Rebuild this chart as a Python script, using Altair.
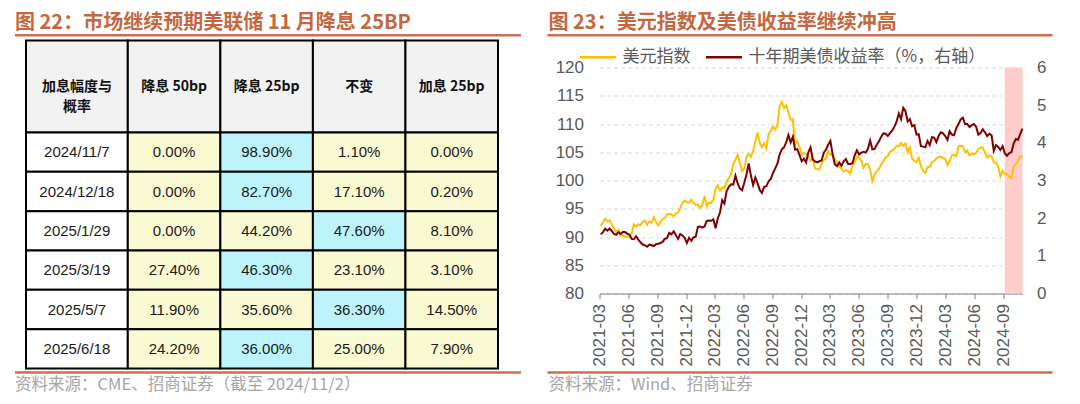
import altair as alt
import pandas as pd

CJK = "Noto Sans CJK SC"
LAT = "Liberation Sans"
TITLE_COLOR = "#c4673f"
RULE_COLOR = "#c8704f"
SRC_COLOR = "#a6a6a6"
AX_COLOR = "#595959"

# ---------------- left panel: probability table ----------------
table_title = "图 22：市场继续预期美联储 11 月降息 25BP"
table_source = "资料来源：CME、招商证券（截至 2024/11/2）"
header_labels = ["加息幅度与\n概率", "降息 50bp", "降息 25bp", "不变", "加息 25bp"]
meeting_dates = ["2024/11/7", "2024/12/18", "2025/1/29", "2025/3/19", "2025/5/7", "2025/6/18"]
cut50 = [0.00, 0.00, 0.00, 27.40, 11.90, 24.20]
cut25 = [98.90, 82.70, 44.20, 46.30, 35.60, 36.00]
hold = [1.10, 17.10, 47.60, 23.10, 36.30, 25.00]
hike25 = [0.00, 0.20, 8.10, 3.10, 14.50, 7.90]

# ---------------- right panel: DXY & UST 10Y (weekly) ----------------
line_title = "图 23：美元指数及美债收益率继续冲高"
line_source = "资料来源：Wind、招商证券"
series_names = ["美元指数", "十年期美债收益率（%，右轴）"]
series_colors = ["#ffc000", "#7f0000"]
first_week = "2021-03-05"
x_start, x_end = "2021-03-01", "2024-11-01"
band_start, band_end = "2024-09-06", "2024-11-01"
tick_labels = ["2021-03", "2021-06", "2021-09", "2021-12", "2022-03", "2022-06",
               "2022-09", "2022-12", "2023-03", "2023-06", "2023-09", "2023-12",
               "2024-03", "2024-06", "2024-09"]
left_ticks = [80, 85, 90, 95, 100, 105, 110, 115, 120]
right_ticks = [0, 1, 2, 3, 4, 5, 6]

dxy_2021 = [91.98, 92.67, 93.25, 92.77,
            92.93, 92.16, 91.56, 90.85, 91.28,
            90.23, 90.32, 89.99, 90.03,
            90.13, 90.56, 92.23, 91.85,
            92.23, 92.12, 92.68, 92.91, 92.17,
            92.78, 92.52, 93.49, 92.69,
            92.04, 92.58, 93.20, 93.33,
            94.04, 94.08, 93.97, 93.64, 94.12,
            94.32, 95.13, 96.03, 96.48,
            96.15, 96.08, 96.60, 96.03, 95.67]
dxy_2022 = [95.74, 95.17, 95.64, 97.26,
            95.49, 96.06, 96.04, 96.62,
            98.51, 99.13, 98.23, 98.79,
            98.61, 99.83, 100.50, 101.12, 102.96,
            103.66, 104.56, 103.15, 101.66,
            102.14, 104.15, 104.69, 104.20,
            105.14, 106.89, 108.48, 106.67, 105.88,
            106.60, 105.69, 108.16, 108.82,
            109.54, 109.00, 109.76, 113.19, 113.90,
            112.80, 113.31, 111.99, 110.75,
            110.80, 106.39, 106.92, 105.99,
            104.56, 104.81, 104.70, 104.32, 103.52]
dxy_2023 = [103.89, 102.20, 102.02, 101.92,
            102.92, 103.63, 103.87, 105.21,
            104.52, 104.58, 103.86, 103.12, 102.51,
            102.08, 101.55, 101.82, 101.66,
            101.22, 102.68, 103.16, 104.22,
            104.02, 103.56, 102.26, 102.92, 102.91,
            101.95, 99.91, 101.07, 101.67,
            102.02, 102.85, 103.39, 104.11,
            104.26, 105.06, 105.32, 105.58, 106.17,
            106.04, 106.66, 106.16, 106.56,
            105.02, 105.86, 103.92, 103.41,
            103.27, 104.01, 102.55, 101.70, 101.33]
dxy_2024 = [102.41, 102.40, 103.29, 103.44,
            103.92, 104.11, 104.28, 103.94,
            103.86, 102.71, 103.44, 104.43, 104.55,
            104.30, 106.04, 106.15, 106.09,
            105.03, 105.30, 104.46, 104.72, 104.67,
            104.89, 105.55, 105.80, 105.87,
            104.88, 104.09, 104.40, 104.32,
            103.21, 103.14, 102.45, 100.72, 101.70,
            101.18, 101.11, 100.72, 100.38,
            102.52, 102.90, 103.49, 104.26,
            104.28]

yld_2021 = [1.57, 1.63, 1.72, 1.67,
            1.72, 1.66, 1.58, 1.56, 1.63,
            1.58, 1.63, 1.63, 1.59,
            1.56, 1.45, 1.44, 1.52,
            1.43, 1.36, 1.30, 1.28, 1.24,
            1.30, 1.28, 1.26, 1.31,
            1.32, 1.34, 1.37, 1.45,
            1.47, 1.61, 1.57, 1.65, 1.55,
            1.45, 1.58, 1.54, 1.48,
            1.34, 1.48, 1.40, 1.49, 1.51]
yld_2022 = [1.77, 1.78, 1.75, 1.78,
            1.93, 1.94, 1.93, 1.97,
            1.73, 2.00, 2.15, 2.48,
            2.39, 2.72, 2.83, 2.90, 2.89,
            3.13, 2.92, 2.79, 2.74,
            2.94, 3.16, 3.45, 3.13,
            2.88, 3.08, 2.93, 2.75, 2.67,
            2.83, 2.85, 2.98, 3.04,
            3.20, 3.32, 3.45, 3.69, 3.83,
            3.88, 4.02, 4.21, 4.01,
            4.16, 3.82, 3.83, 3.68,
            3.51, 3.58, 3.48, 3.75, 3.88]
yld_2023 = [3.56, 3.51, 3.48, 3.51,
            3.53, 3.74, 3.82, 3.95,
            4.05, 3.70, 3.43, 3.38, 3.48,
            3.39, 3.51, 3.57, 3.44,
            3.44, 3.46, 3.67, 3.80,
            3.69, 3.74, 3.76, 3.74, 3.84,
            4.06, 3.83, 3.84, 3.95,
            4.04, 4.16, 4.25, 4.24,
            4.18, 4.26, 4.33, 4.43, 4.57,
            4.78, 4.63, 4.93, 4.84,
            4.57, 4.63, 4.44, 4.47,
            4.22, 4.23, 3.91, 3.90, 3.88]
yld_2024 = [4.05, 3.94, 4.15, 4.14,
            4.02, 4.18, 4.28, 4.25,
            4.18, 4.08, 4.31, 4.22, 4.20,
            4.39, 4.50, 4.62, 4.67,
            4.50, 4.50, 4.42, 4.47, 4.50,
            4.43, 4.22, 4.26, 4.36,
            4.28, 4.18, 4.24, 4.20,
            3.79, 3.94, 3.89, 3.81, 3.91,
            3.72, 3.66, 3.73, 3.75,
            3.98, 4.10, 4.08, 4.24,
            4.38]

# ================= build left table =================
col_units = [1.1, 1.0, 1.0, 1.0, 1.0]
header_units = 2.34
x_edges = [0.0]
for w in col_units:
    x_edges.append(x_edges[-1] + w)
n_rows = len(meeting_dates)

cells = []
for j, lab in enumerate(header_labels):
    cells.append(dict(x0=x_edges[j], x1=x_edges[j + 1], y0=0.0, y1=header_units,
                      label=lab, kind="header"))
prob_cols = [cut50, cut25, hold, hike25]
for i, d in enumerate(meeting_dates):
    y0 = header_units + i
    y1 = y0 + 1
    cells.append(dict(x0=x_edges[0], x1=x_edges[1], y0=y0, y1=y1, label=d, kind="date"))
    vals = [c[i] for c in prob_cols]
    mx = max(vals)
    for k, v in enumerate(vals):
        cells.append(dict(x0=x_edges[k + 1], x1=x_edges[k + 2], y0=y0, y1=y1,
                          label=f"{v:.2f}%", kind="max" if v == mx else "other"))
cell_df = pd.DataFrame(cells)
cell_df["xc"] = (cell_df["x0"] + cell_df["x1"]) / 2
cell_df["yc"] = (cell_df["y0"] + cell_df["y1"]) / 2

# both panels share the same plot top (the line chart's); the table starts
# 27px above it, so its y domain starts a little after 0.
LW, LH = 472, 301
ROW_PX = 39.33
top_gap_px = 27
y_dom_start = top_gap_px / ROW_PX
y_dom_end = y_dom_start + LH / ROW_PX
xs = alt.Scale(domain=[0, x_edges[-1]], nice=False, zero=False)
ys = alt.Scale(domain=[y_dom_start, y_dom_end], nice=False, zero=False, reverse=True)
fill_scale = alt.Scale(domain=["header", "date", "other", "max"],
                       range=["#f2f2f2", "#ffffff", "#f9f9d2", "#bdf4fc"])

base_t = alt.Chart(cell_df)
rects = base_t.mark_rect(stroke="#000000", strokeWidth=2).encode(
    x=alt.X("x0:Q", scale=xs, axis=None), x2="x1:Q",
    y=alt.Y("y0:Q", scale=ys, axis=None), y2="y1:Q",
    fill=alt.Fill("kind:N", scale=fill_scale, legend=None),
)
head_txt = base_t.transform_filter(alt.datum.kind == "header").mark_text(
    font=CJK, fontSize=14, fontWeight="bold", color="#111111",
    lineBreak="\n", lineHeight=20, baseline="middle", align="center",
).encode(x=alt.X("xc:Q", scale=xs, axis=None), y=alt.Y("yc:Q", scale=ys, axis=None),
         text="label:N")
body_txt = base_t.transform_filter(alt.datum.kind != "header").mark_text(
    font=LAT, fontSize=15, color="#1a1a1a", baseline="middle", align="center",
).encode(x=alt.X("xc:Q", scale=xs, axis=None), y=alt.Y("yc:Q", scale=ys, axis=None),
         text="label:N")

one = pd.DataFrame({"a": [0]})
TITLE_Y = -44.5
SRC_SIZE = 16.5
lt_title = alt.Chart(pd.DataFrame({"t": [table_title]})).mark_text(
    font=CJK, fontSize=20, fontWeight="bold", color=TITLE_COLOR, align="left", baseline="middle"
).encode(text="t:N", x=alt.value(-11), y=alt.value(TITLE_Y))
lt_rule_top = alt.Chart(one).mark_rule(color=RULE_COLOR, strokeWidth=2.5).encode(
    x=alt.value(-11), x2=alt.value(495), y=alt.value(-32.3))
lt_rule_bot = alt.Chart(one).mark_rule(color=RULE_COLOR, strokeWidth=2.5).encode(
    x=alt.value(-11), x2=alt.value(495), y=alt.value(305))
lt_src = alt.Chart(pd.DataFrame({"t": [table_source]})).mark_text(
    font=CJK, fontSize=SRC_SIZE, color=SRC_COLOR, align="left", baseline="middle"
).encode(text="t:N", x=alt.value(-11), y=alt.value(317))

left = alt.layer(rects, head_txt, body_txt, lt_title, lt_rule_top, lt_rule_bot, lt_src).properties(
    width=LW, height=LH)

# ================= build right line chart =================
dxy = dxy_2021 + dxy_2022 + dxy_2023 + dxy_2024
yld = yld_2021 + yld_2022 + yld_2023 + yld_2024
n = min(len(dxy), len(yld))
dates = pd.date_range(first_week, periods=n, freq="7D")
long_df = pd.concat([
    pd.DataFrame({"date": dates, "series": series_names[0], "value": dxy[:n]}),
    pd.DataFrame({"date": dates, "series": series_names[1], "value": yld[:n]}),
], ignore_index=True)


def to_dt(s):
    y, m, d = s.split("-")
    return alt.DateTime(year=int(y), month=int(m), date=int(d))


tick_dts = [to_dt(t + "-01") for t in tick_labels]
xscale = alt.Scale(domain=[to_dt(x_start), to_dt(x_end)])
xaxis = alt.Axis(values=tick_dts, format="%Y-%m", labelAngle=270, labelFontSize=17,
                 labelColor=AX_COLOR, labelFont=LAT, domainColor="#808080", tickColor="#808080",
                 tickSize=5, labelPadding=5, grid=False, title=None, labelOverlap=False)

RW, RH = 423, 226
color_enc = alt.Color("series:N", scale=alt.Scale(domain=series_names, range=series_colors),
                      legend=alt.Legend(orient="none", legendX=-21, legendY=-30, direction="horizontal",
                                        title=None, symbolType="stroke", symbolSize=1296,
                                        symbolStrokeWidth=2.5, labelFontSize=17, labelFont=CJK,
                                        labelColor=AX_COLOR, columnPadding=10, labelOffset=5,
                                        padding=0, labelLimit=400))

band = alt.Chart(pd.DataFrame({"s": [band_start], "e": [band_end]})).mark_rect(
    color="#ffcccc", opacity=1).encode(
    x=alt.X("s:T", scale=xscale, axis=xaxis), x2="e:T",
    y=alt.value(0), y2=alt.value(RH))

l_dxy = alt.Chart(long_df).transform_filter(alt.datum.series == series_names[0]).mark_line(
    strokeWidth=2).encode(
    x=alt.X("date:T", scale=xscale, axis=xaxis),
    y=alt.Y("value:Q", scale=alt.Scale(domain=[80, 120], nice=False, zero=False),
            axis=alt.Axis(values=left_ticks, grid=True, gridDash=[4, 3], gridColor="#d9d9d9",
                          domain=False, ticks=False, labelFontSize=17, labelColor=AX_COLOR,
                          labelFont=LAT, labelPadding=16, title=None)),
    color=color_enc)
l_yld = alt.Chart(long_df).transform_filter(alt.datum.series == series_names[1]).mark_line(
    strokeWidth=2).encode(
    x=alt.X("date:T", scale=xscale, axis=xaxis),
    y=alt.Y("value:Q", scale=alt.Scale(domain=[0, 6], nice=False, zero=False),
            axis=alt.Axis(orient="right", values=right_ticks, grid=False, domain=False, ticks=False,
                          labelFontSize=17, labelColor=AX_COLOR, labelFont=LAT, labelPadding=14,
                          title=None)),
    color=color_enc)

rt_title = alt.Chart(pd.DataFrame({"t": [line_title]})).mark_text(
    font=CJK, fontSize=20, fontWeight="bold", color=TITLE_COLOR, align="left", baseline="middle"
).encode(text="t:N", x=alt.value(-51), y=alt.value(TITLE_Y))
rt_rule_top = alt.Chart(one).mark_rule(color=RULE_COLOR, strokeWidth=2.5).encode(
    x=alt.value(-52), x2=alt.value(453), y=alt.value(-32.3))
rt_rule_bot = alt.Chart(one).mark_rule(color=RULE_COLOR, strokeWidth=2.5).encode(
    x=alt.value(-52), x2=alt.value(453), y=alt.value(305))
rt_src = alt.Chart(pd.DataFrame({"t": [line_source]})).mark_text(
    font=CJK, fontSize=SRC_SIZE, color=SRC_COLOR, align="left", baseline="middle"
).encode(text="t:N", x=alt.value(-51), y=alt.value(317))

right = alt.layer(band, l_dxy, l_yld, rt_title, rt_rule_top, rt_rule_bot, rt_src).resolve_scale(
    y="independent").properties(width=RW, height=RH)

chart = alt.hconcat(left, right, spacing=22.5).resolve_scale(
    color="independent", fill="independent"
).properties(
    padding={"left": 5, "top": 4.5, "right": 5, "bottom": 5}
).configure_view(stroke=None)

chart.save("out.html", embed_options={"renderer": "svg", "actions": False})
